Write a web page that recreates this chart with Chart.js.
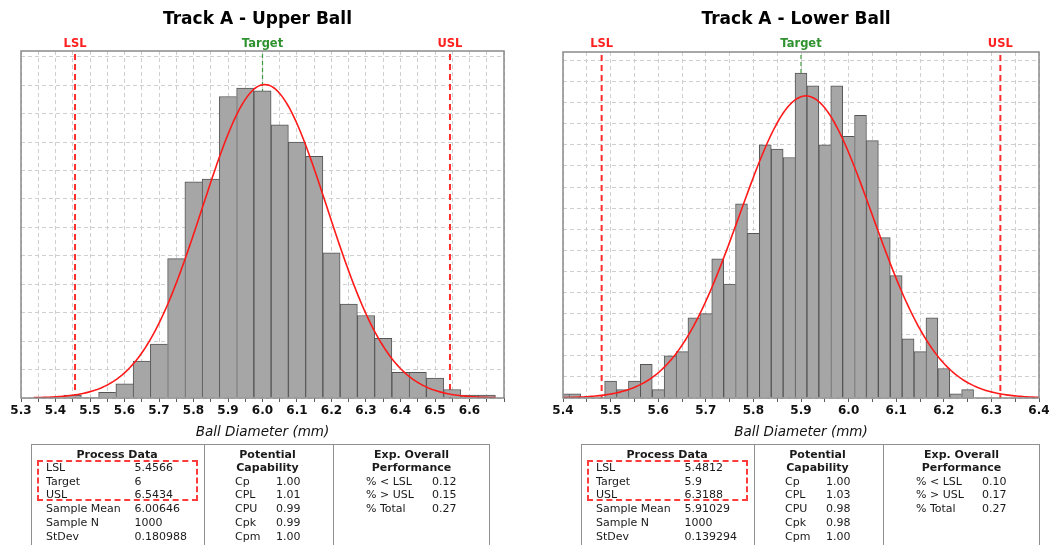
<!DOCTYPE html>
<html>
<head>
<meta charset="utf-8">
<script src="https://cdn.jsdelivr.net/npm/chart.js@4.4.1/dist/chart.umd.min.js"></script>
<style>
  html, body { margin: 0; padding: 0; background: #fff; }
  body { width: 1060px; height: 545px; position: relative; overflow: hidden;
         font-family: "DejaVu Sans", Verdana, sans-serif; }
  canvas.cv { position: absolute; top: 0; }
  .tbl { position: absolute; top: 444px; height: 120px; border: 1.5px solid #8f8f8f; box-sizing: border-box; }
  .sep { position: absolute; top: 444px; height: 120px; width: 0; border-left: 1.5px solid #8f8f8f; }
  .t { position: absolute; font-size: 11px; line-height: 13px; color: #1a1a1a; white-space: nowrap; }
  .h { font-weight: bold; transform: translateX(-50%); }
  .spec { position: absolute; border: 2px dashed #ff3b3b; box-sizing: border-box; }
</style>
</head>
<body>
<canvas id="upper" class="cv" width="530" height="445" style="left:0px"></canvas>
<canvas id="lower" class="cv" width="530" height="445" style="left:530px"></canvas>
<script>
// ---------- Track A - Upper Ball ----------
const upperBins   = [5.45, 5.50, 5.55, 5.60, 5.65, 5.70, 5.75, 5.80, 5.85, 5.90, 5.95, 6.00, 6.05,
                     6.10, 6.15, 6.20, 6.25, 6.30, 6.35, 6.40, 6.45, 6.50, 6.55, 6.60, 6.65];
const upperCounts = [1, 0, 2, 5, 13, 19, 49, 76, 77, 106, 109, 108, 96,
                     90, 85, 51, 33, 29, 21, 9, 9, 7, 3, 1, 1];
const upperXTicks = [5.30, 5.35, 5.40, 5.45, 5.50, 5.55, 5.60, 5.65, 5.70, 5.75, 5.80, 5.85, 5.90, 5.95,
                     6.00, 6.05, 6.10, 6.15, 6.20, 6.25, 6.30, 6.35, 6.40, 6.45, 6.50, 6.55, 6.60, 6.65, 6.70];
const upperXLabels = ['5.3', '5.4', '5.5', '5.6', '5.7', '5.8', '5.9', '6.0', '6.1', '6.2', '6.3', '6.4', '6.5', '6.6'];
const upperYTicks = [0, 10, 20, 30, 40, 50, 60, 70, 80, 90, 100, 110, 120];
const upperSpecValues = [5.4566, 6, 6.5434];
const upperProcess = [['LSL', '5.4566'], ['Target', '6'], ['USL', '6.5434'],
                      ['Sample Mean', '6.00646'], ['Sample N', '1000'], ['StDev', '0.180988']];
const upperCapability = [['Cp', '1.00'], ['CPL', '1.01'], ['CPU', '0.99'], ['Cpk', '0.99'], ['Cpm', '1.00']];
const upperPerformance = [['% < LSL', '0.12'], ['% > USL', '0.15'], ['% Total', '0.27']];

// ---------- Track A - Lower Ball ----------
const lowerBins   = [5.400, 5.425, 5.450, 5.475, 5.500, 5.525, 5.550, 5.575, 5.600, 5.625, 5.650, 5.675,
                     5.700, 5.725, 5.750, 5.775, 5.800, 5.825, 5.850, 5.875, 5.900, 5.925, 5.950, 5.975,
                     6.000, 6.025, 6.050, 6.075, 6.100, 6.125, 6.150, 6.175, 6.200, 6.225, 6.250];
const lowerCounts = [1, 1, 0, 0, 4, 2, 4, 8, 2, 10, 11, 19,
                     20, 33, 27, 46, 39, 60, 59, 57, 77, 74, 60, 74,
                     62, 67, 61, 38, 29, 14, 11, 19, 7, 1, 2];
const lowerXTicks = [5.40, 5.45, 5.50, 5.55, 5.60, 5.65, 5.70, 5.75, 5.80, 5.85, 5.90,
                     5.95, 6.00, 6.05, 6.10, 6.15, 6.20, 6.25, 6.30, 6.35, 6.40];
const lowerXLabels = ['5.4', '5.5', '5.6', '5.7', '5.8', '5.9', '6.0', '6.1', '6.2', '6.3', '6.4'];
const lowerYTicks = [0, 5, 10, 15, 20, 25, 30, 35, 40, 45, 50, 55, 60, 65, 70, 75, 80];
const lowerSpecValues = [5.4812, 5.9, 6.3188];
const lowerProcess = [['LSL', '5.4812'], ['Target', '5.9'], ['USL', '6.3188'],
                      ['Sample Mean', '5.91029'], ['Sample N', '1000'], ['StDev', '0.139294']];
const lowerCapability = [['Cp', '1.00'], ['CPL', '1.03'], ['CPU', '0.98'], ['Cpk', '0.98'], ['Cpm', '1.00']];
const lowerPerformance = [['% < LSL', '0.10'], ['% > USL', '0.17'], ['% Total', '0.27']];

const specNames = ['LSL', 'Target', 'USL'];
const FONT = '"DejaVu Sans", Verdana, sans-serif';

// Fitted normal curve, scaled to counts per bin, from the sample mean / stdev / N shown in the table
function fittedCurve(process, bins) {
  const mean = parseFloat(process[3][1]);
  const sd = parseFloat(process[5][1]);
  const n = parseFloat(process[4][1]);
  const w = bins[1] - bins[0];
  const lo = mean - 3.7 * sd, hi = mean + 3.7 * sd, steps = 240;
  const pts = [];
  for (let k = 0; k <= steps; k++) {
    const x = lo + (hi - lo) * k / steps;
    const z = (x - mean) / sd;
    pts.push({ x: x, y: n * w * Math.exp(-0.5 * z * z) / (sd * Math.sqrt(2 * Math.PI)) });
  }
  return pts;
}

// Spec limit lines, their labels, plot frame and chart title
const decorPlugin = {
  id: 'decor',
  beforeDatasetsDraw(chart, args, opts) {
    const { ctx, chartArea: a, scales: { x } } = chart;
    ctx.save();
    opts.values.forEach((v, i) => {
      const px = x.getPixelForValue(v);
      const isTarget = specNames[i] === 'Target';
      ctx.beginPath();
      ctx.setLineDash(isTarget ? [4, 3] : [6, 4]);
      ctx.lineWidth = isTarget ? 1.2 : 2;
      ctx.strokeStyle = isTarget ? '#3f9a3f' : '#ff2d2d';
      ctx.moveTo(px, a.top + 3);
      ctx.lineTo(px, a.bottom);
      ctx.stroke();
    });
    ctx.restore();
  },
  afterDatasetsDraw(chart) {
    const { ctx, chartArea: a } = chart;
    ctx.save();
    ctx.strokeStyle = '#8a8a8a';
    ctx.lineWidth = 1.5;
    ctx.setLineDash([]);
    ctx.strokeRect(a.left, a.top, a.right - a.left, a.bottom - a.top);
    ctx.restore();
  },
  afterDraw(chart, args, opts) {
    const { ctx, chartArea: a, scales: { x } } = chart;
    ctx.save();
    ctx.textAlign = 'center';
    ctx.textBaseline = 'middle';
    ctx.font = 'bold 11.5px ' + FONT;
    opts.values.forEach((v, i) => {
      ctx.fillStyle = specNames[i] === 'Target' ? '#2f922f' : '#ff2020';
      ctx.fillText(specNames[i], x.getPixelForValue(v), 44);
    });
    ctx.fillStyle = '#000';
    ctx.font = 'bold 17px ' + FONT;
    ctx.fillText(opts.title, (a.left + a.right) / 2 - 5, 20);
    ctx.restore();
  }
};

function makeChart(id, cfg) {
  const counts = cfg.counts;
  const labelFor = v => {
    const s = v.toFixed(1);
    return Math.abs(v * 10 - Math.round(v * 10)) < 1e-6 && cfg.xLabels.includes(s) ? s : '';
  };
  return new Chart(document.getElementById(id), {
    type: 'bar',
    data: {
      datasets: [
        {
          type: 'line',
          data: fittedCurve(cfg.process, cfg.bins),
          borderColor: '#ff1a1a',
          borderWidth: 1.6,
          pointRadius: 0,
          tension: 0,
          order: 0,
          clip: 0
        },
        {
          type: 'bar',
          data: cfg.bins.map((b, i) => ({ x: b, y: counts[i] })),
          backgroundColor: '#a6a6a6',
          borderColor: '#555555',
          borderWidth: c => {
            const i = c.dataIndex, cur = counts[i];
            if (!cur) return 0;
            const next = i + 1 < counts.length ? counts[i + 1] : 0;
            return { top: 1, left: 1, right: next < cur ? 1 : 0, bottom: 0 };
          },
          barPercentage: 1,
          categoryPercentage: 1,
          grouped: false,
          order: 1,
          clip: 0
        }
      ]
    },
    options: {
      responsive: false,
      animation: false,
      events: [],
      layout: { padding: cfg.padding },
      plugins: {
        legend: { display: false },
        tooltip: { enabled: false },
        decor: { values: cfg.spec, title: cfg.title }
      },
      scales: {
        x: {
          type: 'linear',
          min: cfg.xTicks[0],
          max: cfg.xTicks[cfg.xTicks.length - 1],
          offset: false,
          afterBuildTicks: s => { s.ticks = cfg.xTicks.map(v => ({ value: v })); },
          afterFit: s => { s.height = 43; },
          grid: {
            offset: false, color: '#cfcfcf', lineWidth: 1,
            drawTicks: true, tickLength: 4, tickColor: '#5a5a5a', tickWidth: 1, tickBorderDash: []
          },
          border: { display: false, dash: [4, 3] },
          ticks: {
            autoSkip: false, maxRotation: 0, minRotation: 0, padding: 2, color: '#111',
            font: { family: FONT, size: 12, weight: 'bold' },
            callback: v => labelFor(v)
          },
          title: {
            display: true, text: 'Ball Diameter (mm)', color: '#111',
            font: { family: FONT, size: 13.5, style: 'italic' },
            padding: { top: 0, bottom: 0 }
          }
        },
        y: {
          min: 0,
          max: cfg.yMax,
          afterBuildTicks: s => { s.ticks = cfg.yTicks.map(v => ({ value: v })); },
          afterFit: s => { s.width = 0; },
          grid: { color: '#cfcfcf', lineWidth: 1, drawTicks: false },
          border: { display: false, dash: [4, 3] },
          ticks: { display: false }
        }
      }
    },
    plugins: [decorPlugin]
  });
}

makeChart('upper', {
  title: 'Track A - Upper Ball',
  bins: upperBins, counts: upperCounts, xTicks: upperXTicks, xLabels: upperXLabels,
  yTicks: upperYTicks, yMax: 122, spec: upperSpecValues, process: upperProcess,
  padding: { left: 21, right: 26, top: 51, bottom: 4 }
});
makeChart('lower', {
  title: 'Track A - Lower Ball',
  bins: lowerBins, counts: lowerCounts, xTicks: lowerXTicks, xLabels: lowerXLabels,
  yTicks: lowerYTicks, yMax: 82, spec: lowerSpecValues, process: lowerProcess,
  padding: { left: 33, right: 21, top: 52, bottom: 4 }
});

// ---------- summary tables under each histogram ----------
function put(text, left, centerY, cls) {
  const d = document.createElement('div');
  d.className = 't' + (cls ? ' ' + cls : '');
  d.textContent = text;
  d.style.left = left + 'px';
  d.style.top = (centerY - 6.5) + 'px';
  document.body.appendChild(d);
}
function box(cls, left, width, extra) {
  const d = document.createElement('div');
  d.className = cls;
  d.style.left = left + 'px';
  if (width != null) d.style.width = width + 'px';
  if (extra) Object.assign(d.style, extra);
  document.body.appendChild(d);
}
function buildTable(x0, process, capability, performance) {
  box('tbl', x0, 459);
  box('sep', x0 + 173);
  box('sep', x0 + 302);
  box('spec', x0 + 6, 161, { top: '459.5px', height: '41.5px' });
  const rows = [467.5, 481, 494.5, 508.5, 522, 536];
  put('Process Data', x0 + 86, 454, 'h');
  process.forEach((r, i) => { put(r[0], x0 + 15, rows[i]); put(r[1], x0 + 103.5, rows[i]); });
  put('Potential', x0 + 236.5, 454, 'h');
  put('Capability', x0 + 236.5, 467, 'h');
  capability.forEach((r, i) => { put(r[0], x0 + 204, rows[i + 1]); put(r[1], x0 + 245, rows[i + 1]); });
  put('Exp. Overall', x0 + 380.5, 454, 'h');
  put('Performance', x0 + 380.5, 467, 'h');
  performance.forEach((r, i) => { put(r[0], x0 + 335, rows[i + 1]); put(r[1], x0 + 401, rows[i + 1]); });
}
buildTable(31, upperProcess, upperCapability, upperPerformance);
buildTable(581, lowerProcess, lowerCapability, lowerPerformance);
</script>
</body>
</html>
